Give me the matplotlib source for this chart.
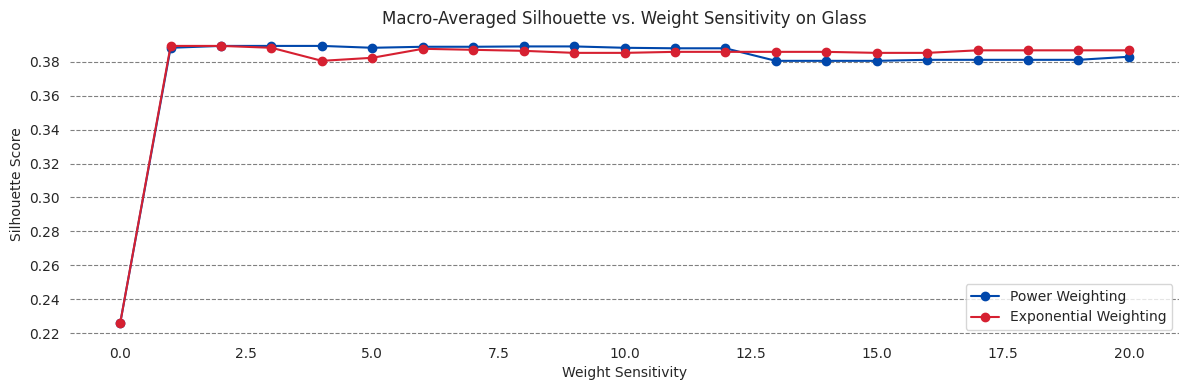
import matplotlib

matplotlib.use("Agg")
import matplotlib.pyplot as plt
import seaborn as sns

# Data
sensitivity = list(range(0, 21))
power = [0.2259, 0.3883, 0.3894, 0.3894, 0.3894, 0.3883, 0.3889, 0.3889, 0.3891,
         0.3891, 0.3883, 0.3880, 0.3880, 0.3806, 0.3806, 0.3806, 0.3812, 0.3812,
         0.3812, 0.3812, 0.3830]
exponential = [0.2259, 0.3894, 0.3894, 0.3883, 0.3806, 0.3824, 0.3877, 0.3871,
               0.3865, 0.3853, 0.3853, 0.3859, 0.3859, 0.3859, 0.3859, 0.3853,
               0.3853, 0.3868, 0.3868, 0.3868, 0.3868]

sns.set_style("whitegrid")

fig, ax = plt.subplots(figsize=(11.89, 3.9), dpi=100)
ax.plot(sensitivity, power, marker="o", color="#0047AB", label="Power Weighting")
ax.plot(sensitivity, exponential, marker="o", color="#D62031", label="Exponential Weighting")

ax.set_title("Macro-Averaged Silhouette vs. Weight Sensitivity on Glass", fontsize=12)
ax.set_xlabel("Weight Sensitivity")
ax.set_ylabel("Silhouette Score")
ax.grid(False)
ax.yaxis.grid(True, linestyle="--", color="gray")
for s in ax.spines.values():
    s.set_visible(False)
ax.legend(loc="lower right")

plt.tight_layout(pad=0.7)
plt.savefig("out.png")
